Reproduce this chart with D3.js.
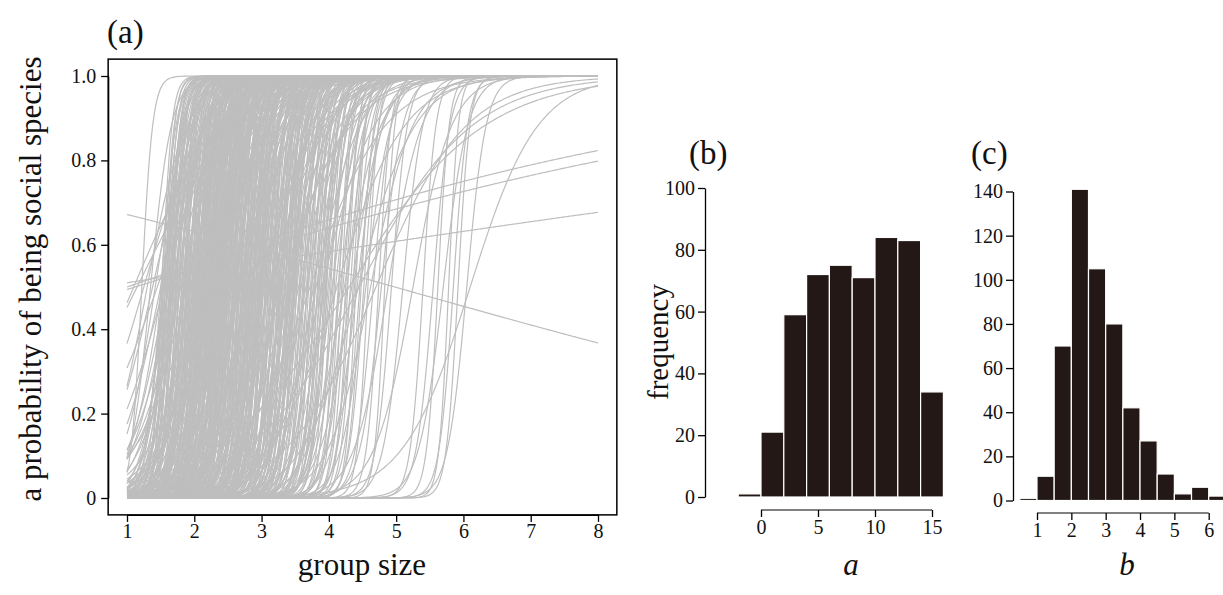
<!DOCTYPE html>
<meta charset="utf-8">
<script src="https://cdn.jsdelivr.net/npm/d3@7"></script>
<style>
  body { margin: 0; background: #fff; }
  svg text { font-family: "Liberation Serif", "Times New Roman", serif; fill: #111; }
</style>
<div id="main"></div>
<script>
var width = 1223
var height = 595

// (a) fitted curves, logit(p) = a * (groupSize - b); one entry per curve
var curveA = [
  0.1,
  0.22, 0.2, 1.5, 1.3, 2.2, 3.4, 2.8, 12.5, 4.1, 1.8, 6.5,
  3.1, 13.6, 7.2, 2.4, 10.5, 5.8, 12.9, 8.4, 3.7, 11.2, 6.1, 14.3, 9.3, 4.6, 12.2, 2.9, 7.9, 10.9, 5.2, 13.1,
  8.8, 3.3, 11.7, 6.7, 12.6, 4.9, 9.8, 2.6, 13.8, 7.4, 10.2, 5.5, 12.4, 8.1, 3.9, 11.4, 6.4, 14.8, 9.1, 4.3,
  9.0, 4.2, 12.1, 6.9, 14.0, 8.2, 3.5, 11.0, 5.9, 13.3, 7.6, 10.1, 4.0, 12.8, 6.3, 9.4, 14.5, 5.0, 11.6, 8.0,
  2.8, 13.0, 7.0, 10.6, 4.8, 12.2, 6.0, 9.6, 13.5, 7.8,
  11.8, 6.9, 2.2, 13.4, 9.6, 5.1, 12.3, 7.7, 3.5, 10.7, 14.1, 8.3, 4.4, 11.1, 6.2, 13.9, 9.9, 2.8, 12.7, 7.1,
  5.6, 10.3, 13.3, 8.6, 3.8, 11.9, 6.6, 14.6, 9.4, 4.8, 12.0, 7.6, 2.5, 10.6, 13.0, 8.0, 5.3, 11.6, 6.8, 14.0,
  9.2, 3.4, 12.8, 7.3, 4.7, 10.1, 13.7, 8.7, 5.9, 11.3, 6.0, 12.5, 9.7, 3.6, 10.8, 13.5, 7.8, 4.1, 11.0, 8.2,
  5.0, 10.9, 13.6, 3.9, 8.1, 12.4, 6.4, 14.2, 9.0, 2.6, 11.5, 7.2, 13.1, 4.5, 10.0, 5.7, 12.9, 8.8, 3.1, 11.2,
  6.7, 14.4, 9.3, 4.2, 12.0, 7.4, 10.5, 2.4, 13.8, 8.4, 5.5, 11.7, 6.1, 12.6, 9.8, 3.3, 14.0, 7.9, 10.2, 4.9,
  12.3, 6.5, 8.9, 13.4, 5.2, 11.0, 3.7, 9.5, 12.8, 7.0,
  8.9, 13.2, 4.5, 11.4, 7.0, 2.7, 12.1, 9.5, 5.7, 14.2, 10.4, 6.3, 12.9, 3.2, 8.5, 11.8, 5.0, 13.6, 9.0, 7.5,
  12.3, 4.0, 10.0, 14.5, 6.5, 11.5, 3.0, 9.9, 13.1, 7.9, 5.4, 12.6, 8.1, 10.9, 4.2, 13.8, 6.9, 11.2, 2.3, 9.3,
  12.2, 7.2, 10.5, 5.1, 13.0,
  11.1, 6.0, 13.7, 8.6, 3.6, 12.0, 7.1, 10.3, 14.6, 5.3, 9.2, 12.7, 4.4, 11.9, 7.7, 2.9, 13.2, 8.3, 10.6, 5.9,
  14.1, 6.8, 11.3, 3.8, 9.7, 12.5, 7.4, 13.9, 5.6, 10.8, 8.0, 12.2, 4.7, 9.1, 13.5, 6.2, 11.6, 2.2, 10.0, 7.6,
  12.4, 6.0, 9.8, 3.3, 13.9, 7.7, 11.0, 4.9, 8.4, 14.7, 2.5, 10.2, 6.6, 12.8, 9.1, 5.3, 13.4, 7.3, 11.6, 3.9,
  10.7, 8.0, 14.1, 5.8, 12.0, 2.1, 9.5, 6.8, 13.3, 11.3, 4.4, 8.7, 12.7, 7.1, 10.4, 3.6, 14.4, 9.2, 5.5, 11.9,
  8.5, 13.0, 5.1, 11.5, 7.4, 14.2, 3.2, 10.1, 6.1, 12.6, 9.0, 4.0, 13.6, 7.9, 11.2, 5.6, 12.1, 8.9, 3.0, 10.6,
  14.0, 6.5, 11.8, 4.7, 9.6, 13.1, 7.0, 2.4, 1.9, 2.7,
  10.6, 5.2, 13.0, 8.3, 2.9, 11.7, 7.0, 14.3, 4.6, 9.4, 12.2, 6.2, 10.0, 3.4, 13.5, 8.8, 5.7, 11.1, 1.8, 12.9,
  7.5, 9.7, 4.1, 14.0, 6.7, 10.8, 3.1, 12.5, 8.2, 5.0, 11.4, 7.8, 13.7, 2.6, 9.0, 6.4, 12.0, 4.5, 10.3, 8.6,
  13.2, 6.9,
  7.4, 12.3, 4.8, 10.1, 14.6, 6.1, 2.0, 9.3, 11.8, 5.6, 13.1, 8.0, 3.7, 10.9, 6.6, 12.7, 1.0, 9.6, 4.3, 11.2,
  7.9, 13.8, 5.3, 2.4, 8.7, 10.4, 1.2,
  9.2, 5.4, 12.6, 3.2, 7.6, 1.5, 11.0, 6.3, 13.4, 4.0, 8.5, -0.18,
  6.8, 3.5, 10.5,
  8.0, 12.0, 5.5, 14.0, 9.5, 11.5,
  7.0, 2.0
]
var curveB = [
  0.6,
  1.0, 1.12, 1.1, 1.15, 1.25, 1.3, 1.38, 1.22, 1.42, 1.45, 1.35,
  1.50, 1.52, 1.53, 1.55, 1.56, 1.57, 1.59, 1.60, 1.62, 1.63, 1.64, 1.66, 1.67, 1.69, 1.70, 1.71, 1.73, 1.74, 1.75, 1.77,
  1.78, 1.80, 1.81, 1.82, 1.84, 1.85, 1.86, 1.88, 1.89, 1.90, 1.91, 1.92, 1.93, 1.94, 1.95, 1.96, 1.97, 1.98, 1.99, 1.99,
  1.505, 1.515, 1.535, 1.545, 1.565, 1.575, 1.585, 1.605, 1.615, 1.635, 1.645, 1.655, 1.675, 1.685, 1.705, 1.72, 1.735, 1.755, 1.765, 1.785,
  1.795, 1.815, 1.835, 1.845, 1.865, 1.875, 1.895, 1.915, 1.935, 1.965,
  2.00, 2.01, 2.02, 2.03, 2.04, 2.05, 2.06, 2.07, 2.08, 2.09, 2.10, 2.11, 2.12, 2.13, 2.14, 2.15, 2.16, 2.17, 2.18, 2.19,
  2.20, 2.21, 2.22, 2.23, 2.24, 2.25, 2.26, 2.27, 2.28, 2.29, 2.30, 2.31, 2.32, 2.33, 2.34, 2.35, 2.36, 2.37, 2.38, 2.39,
  2.40, 2.41, 2.42, 2.43, 2.44, 2.45, 2.46, 2.47, 2.48, 2.49, 2.02, 2.07, 2.12, 2.18, 2.23, 2.28, 2.34, 2.38, 2.44, 2.48,
  2.005, 2.015, 2.025, 2.035, 2.045, 2.055, 2.065, 2.075, 2.085, 2.095, 2.105, 2.115, 2.125, 2.135, 2.145, 2.155, 2.165, 2.175, 2.185, 2.195,
  2.205, 2.215, 2.225, 2.235, 2.245, 2.255, 2.265, 2.275, 2.285, 2.295, 2.305, 2.315, 2.325, 2.335, 2.345, 2.355, 2.365, 2.375, 2.385, 2.395,
  2.405, 2.415, 2.425, 2.435, 2.445, 2.455, 2.465, 2.475, 2.485, 2.495,
  2.50, 2.51, 2.52, 2.54, 2.55, 2.56, 2.57, 2.58, 2.60, 2.61, 2.62, 2.63, 2.65, 2.66, 2.67, 2.68, 2.69, 2.70, 2.72, 2.73,
  2.74, 2.75, 2.76, 2.78, 2.79, 2.80, 2.81, 2.82, 2.83, 2.85, 2.86, 2.87, 2.88, 2.89, 2.90, 2.91, 2.92, 2.93, 2.94, 2.95,
  2.96, 2.97, 2.98, 2.99, 2.99,
  2.505, 2.515, 2.53, 2.545, 2.555, 2.565, 2.575, 2.59, 2.605, 2.615, 2.625, 2.64, 2.655, 2.665, 2.675, 2.685, 2.7, 2.715, 2.725, 2.735,
  2.745, 2.76, 2.775, 2.785, 2.8, 2.815, 2.825, 2.835, 2.845, 2.86, 2.875, 2.885, 2.9, 2.915, 2.925, 2.94, 2.955, 2.965, 2.975, 2.99,
  3.00, 3.01, 3.03, 3.04, 3.05, 3.07, 3.08, 3.09, 3.11, 3.12, 3.13, 3.15, 3.16, 3.17, 3.19, 3.20, 3.21, 3.22, 3.24, 3.25,
  3.26, 3.28, 3.29, 3.30, 3.31, 3.33, 3.34, 3.35, 3.36, 3.38, 3.39, 3.40, 3.41, 3.43, 3.44, 3.45, 3.46, 3.47, 3.48, 3.49,
  3.005, 3.02, 3.035, 3.06, 3.075, 3.1, 3.115, 3.14, 3.155, 3.18, 3.2, 3.23, 3.245, 3.27, 3.285, 3.3, 3.32, 3.345, 3.37, 3.385,
  3.4, 3.42, 3.435, 3.45, 3.465, 3.48, 3.495, 3.14, 3.27, 3.42,
  3.50, 3.51, 3.52, 3.53, 3.55, 3.56, 3.57, 3.58, 3.59, 3.61, 3.62, 3.63, 3.64, 3.66, 3.67, 3.68, 3.69, 3.70, 3.72, 3.73,
  3.74, 3.75, 3.77, 3.78, 3.79, 3.80, 3.81, 3.83, 3.84, 3.85, 3.86, 3.88, 3.89, 3.90, 3.91, 3.92, 3.93, 3.94, 3.95, 3.96,
  3.97, 3.99,
  4.01, 4.03, 4.05, 4.06, 4.08, 4.10, 4.12, 4.14, 4.15, 4.17, 4.19, 4.21, 4.23, 4.25, 4.27, 4.28, 4.30, 4.32, 4.34, 4.36,
  4.38, 4.40, 4.42, 4.44, 4.46, 4.48, 4.45,
  4.52, 4.55, 4.58, 4.62, 4.66, 4.70, 4.74, 4.78, 4.83, 4.88, 4.93, 4.98,
  5.1, 5.25, 5.4,
  5.55, 5.62, 5.7, 5.78, 5.85, 5.92,
  6.05, 6.1
]
var groupTicks = [1, 2, 3, 4, 5, 6, 7, 8]
var probTicks = [0, 0.2, 0.4, 0.6, 0.8, 1.0]
var probLabels = ["0", "0.2", "0.4", "0.6", "0.8", "1.0"]

// (b) histogram of a
var aBins = [-2, 0, 2, 4, 6, 8, 10, 12, 14]
var aCounts = [1, 21, 59, 72, 75, 71, 84, 83, 34]
var aTicks = [0, 5, 10, 15]
var freqTicksA = [0, 20, 40, 60, 80, 100]

// (c) histogram of b
var bBins = [0.5, 1, 1.5, 2, 2.5, 3, 3.5, 4, 4.5, 5, 5.5, 6]
var bCounts = [1, 11, 70, 141, 105, 80, 42, 27, 12, 3, 6, 2]
var bTicks = [1, 2, 3, 4, 5, 6]
var freqTicksB = [0, 20, 40, 60, 80, 100, 120, 140]

var svg = d3.select("#main")
  .append("svg")
    .attr("width", width)
    .attr("height", height)

var tickFont = 20

// ---------- panel (a) ----------
var xa = d3.scaleLinear().domain([1, 8]).range([127, 598])
var ya = d3.scaleLinear().domain([0, 1]).range([498, 76])

var gridX = d3.range(1, 8.0001, 0.02)
var curves = curveA.map((a, i) => ({a: a, b: curveB[i]}))
var line = d3.line()
  .x(d => xa(d[0]))
  .y(d => ya(d[1]))

svg.append("g")
  .selectAll("path")
  .data(curves)
  .enter()
  .append("path")
    .attr("d", c => line(gridX.map(x => [x, 1 / (1 + Math.exp(-c.a * (x - c.b)))])))
    .attr("fill", "none")
    .attr("stroke", "#bebebe")
    .attr("stroke-width", 1.2)

// box
svg.append("rect")
  .attr("x", xa(0.72)).attr("y", ya(1.04))
  .attr("width", xa(8.28) - xa(0.72))
  .attr("height", ya(-0.04) - ya(1.04))
  .attr("fill", "none").attr("stroke", "#000").attr("stroke-width", 1.5)

svg.append("g")
  .attr("transform", "translate(0," + ya(-0.04) + ")")
  .call(d3.axisBottom(xa).tickValues(groupTicks).tickFormat(d3.format("d")).tickSize(7).tickSizeOuter(0).tickPadding(2))
svg.append("g")
  .attr("transform", "translate(" + xa(0.72) + ",0)")
  .call(d3.axisLeft(ya).tickValues(probTicks).tickFormat((d, i) => probLabels[i]).tickSize(7).tickSizeOuter(0).tickPadding(5))

svg.append("text")
  .attr("x", 107).attr("y", 43)
  .style("font-size", "33px")
  .text("(a)")
svg.append("text")
  .attr("transform", "translate(41,279) rotate(-90)")
  .attr("text-anchor", "middle")
  .style("font-size", "31px")
  .text("a probability of being social species")
svg.append("text")
  .attr("x", 362).attr("y", 575)
  .attr("text-anchor", "middle")
  .style("font-size", "31px")
  .text("group size")

// ---------- histogram helper ----------
function histogram(opt) {
  var g = svg.append("g")
  g.selectAll("rect")
    .data(opt.bins)
    .enter()
    .append("rect")
      .attr("x", (d, i) => opt.x(d))
      .attr("width", opt.x(opt.bins[1]) - opt.x(opt.bins[0]))
      .attr("y", (d, i) => opt.y(opt.counts[i]))
      .attr("height", (d, i) => opt.y(0) - opt.y(opt.counts[i]))
      .attr("fill", "#231816")
      .attr("stroke", "#fff")
      .attr("stroke-width", 1.2)

  // y axis, line from first to last tick
  g.append("g")
    .attr("transform", "translate(" + opt.axisX + ",0)")
    .call(d3.axisLeft(opt.y).tickValues(opt.yTicks).tickSize(7).tickSizeOuter(0).tickPadding(3))
  // x axis below the bars
  var ax = g.append("g")
    .attr("transform", "translate(0," + opt.axisY + ")")
    .call(d3.axisBottom(opt.x).tickValues(opt.xTicks).tickFormat(d3.format("d")).tickSize(7).tickSizeOuter(0).tickPadding(3))
  ax.select(".domain").remove()
  ax.append("line")
    .attr("x1", opt.x(opt.xTicks[0])).attr("x2", opt.x(opt.xTicks[opt.xTicks.length - 1]))
    .attr("stroke", "#000")
  return g
}

// (b)
var xb = d3.scaleLinear().domain([-2, 16]).range([738.2, 943.4])
var yb = d3.scaleLinear().domain([0, 100]).range([497, 188])
histogram({x: xb, y: yb, bins: aBins, counts: aCounts, yTicks: freqTicksA, xTicks: aTicks, axisX: 705, axisY: 510})

svg.append("text").attr("x", 689).attr("y", 164).style("font-size", "33px").text("(b)")
svg.append("text")
  .attr("transform", "translate(668,342) rotate(-90)")
  .attr("text-anchor", "middle")
  .style("font-size", "29px")
  .text("frequency")
svg.append("text")
  .attr("x", 851).attr("y", 575)
  .attr("text-anchor", "middle")
  .style("font-size", "31px").style("font-style", "italic")
  .text("a")

// (c)
var xc = d3.scaleLinear().domain([1, 6]).range([1037, 1208.7])
var yc = d3.scaleLinear().domain([0, 140]).range([500.5, 191.5])
histogram({x: xc, y: yc, bins: bBins, counts: bCounts, yTicks: freqTicksB, xTicks: bTicks, axisX: 1013, axisY: 513})

svg.append("text").attr("x", 971).attr("y", 164).style("font-size", "33px").text("(c)")
svg.append("text")
  .attr("x", 1127).attr("y", 575)
  .attr("text-anchor", "middle")
  .style("font-size", "31px").style("font-style", "italic")
  .text("b")

svg.selectAll(".tick text").style("font-size", tickFont + "px").style("font-family", "Liberation Serif").attr("fill", "#111")
svg.selectAll(".tick line, .domain").attr("stroke", "#000").attr("stroke-width", 1.3)
</script>
